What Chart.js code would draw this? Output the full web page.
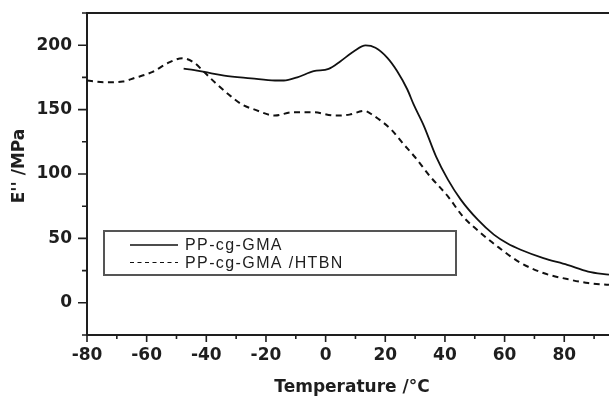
<!DOCTYPE html>
<html>
<head>
<meta charset="utf-8">
<script src="https://cdn.jsdelivr.net/npm/chart.js@4.4.1/dist/chart.umd.min.js"></script>
<style>
  html, body { margin: 0; padding: 0; background: #fff; }
  #wrap { width: 609px; height: 399px; }
</style>
</head>
<body>
<div id="wrap"><canvas id="chart" width="609" height="399"></canvas></div>
<script>
// Loss modulus E'' versus temperature for the two blends
const seriesNames = ['PP-cg-GMA', 'PP-cg-GMA /HTBN'];

const gmaTemps   = [-47.6, -44, -39, -34, -25, -17, -14, -9.5, -4, 1, 5, 9.5, 13.4, 16.7, 20.7, 24, 27.4, 29.5, 33, 37, 41, 45.3, 51, 56.4, 61, 65.4, 73, 81, 88, 95];
const gmaModulus = [181.8, 180.6, 178.5, 176.4, 174.3, 172.6, 172.6, 175.1, 179.8, 181.6, 187.6, 195.3, 199.8, 198, 190.2, 179.8, 165.6, 154, 137, 113.7, 95.6, 80.1, 64.5, 52.9, 46, 41.2, 34.7, 29.5, 24.3, 21.8];

const htbnTemps   = [-80, -74, -68, -64, -58, -53, -48, -44, -41, -37, -32.5, -28, -24, -17, -11, -4, 3, 8, 13, 16, 19, 22, 26, 30, 35, 41, 46, 52, 58, 65, 73, 81, 88, 95];
const htbnModulus = [172.5, 171.2, 171.8, 174.6, 179.3, 186, 189.9, 186.3, 179.8, 170.8, 161.7, 153.9, 150.2, 145.4, 148, 147.9, 145.4, 146.1, 149, 145.5, 140.5, 134.5, 123.5, 113, 98.2, 82.6, 67.1, 54.2, 43, 31.5, 23.1, 18.4, 15.3, 14];

const xLabelStep = 20;   // labelled temperature ticks
const yLabelStep = 50;   // labelled modulus ticks
const xAxisTitle = 'Temperature /°C';
const yAxisTitle = "E'' /MPa";

const toPoints = (xs, ys) => xs.map((x, i) => ({ x, y: ys[i] }));

const INK = '#1e1e1e';
const tickFont = { family: 'DejaVu Sans', weight: 'bold', size: 17 };

// Outward major/minor ticks, top frame line and axis titles
const frameAndTitles = {
  id: 'frameAndTitles',
  afterDraw(chart) {
    const { ctx, chartArea: a, scales: { x, y } } = chart;
    ctx.save();
    ctx.strokeStyle = INK;
    ctx.lineWidth = 1.6;
    ctx.beginPath();
    x.ticks.forEach(t => {
      const px = x.getPixelForValue(t.value);
      const len = Math.abs(t.value % xLabelStep) < 1e-6 ? 7 : 4;
      ctx.moveTo(px, a.bottom); ctx.lineTo(px, a.bottom + len);
    });
    y.ticks.forEach(t => {
      const py = y.getPixelForValue(t.value);
      const len = Math.abs(t.value % yLabelStep) < 1e-6 ? 9 : 5;
      ctx.moveTo(a.left, py); ctx.lineTo(a.left - len, py);
    });
    ctx.stroke();

    ctx.lineWidth = 2;
    ctx.beginPath();
    ctx.moveTo(a.left - 1, a.top); ctx.lineTo(a.right, a.top);
    ctx.stroke();

    ctx.fillStyle = INK;
    ctx.font = 'bold 17px "DejaVu Sans"';
    ctx.textAlign = 'center';
    ctx.textBaseline = 'middle';
    ctx.fillText(xAxisTitle, (a.left + a.right) / 2 + 4, 388);

    ctx.translate(20, 166);
    ctx.rotate(-Math.PI / 2);
    ctx.fillText(yAxisTitle, 0, 0);
    ctx.restore();
  }
};

// Boxed legend inside the plot area
const boxedLegend = {
  id: 'boxedLegend',
  afterDraw(chart) {
    const { ctx } = chart;
    const box = { left: 104, top: 231, width: 352, height: 44 };
    ctx.save();
    ctx.strokeStyle = '#555';
    ctx.lineWidth = 2;
    ctx.strokeRect(box.left, box.top, box.width, box.height);

    ctx.font = '16px "Liberation Sans"';
    ctx.letterSpacing = '1.4px';
    ctx.textAlign = 'left';
    ctx.textBaseline = 'middle';
    chart.data.datasets.forEach((ds, i) => {
      const rowY = 245 + i * 17.5;
      ctx.strokeStyle = ds.borderColor;
      ctx.lineWidth = i === 0 ? 1.4 : 1.2;
      ctx.setLineDash(i === 0 ? [] : [4, 3.5]);
      ctx.beginPath();
      ctx.moveTo(130, rowY); ctx.lineTo(178, rowY);
      ctx.stroke();
      ctx.setLineDash([]);
      ctx.fillStyle = INK;
      ctx.fillText(ds.label, 185, rowY + 1);
    });
    ctx.restore();
  }
};

const noEdgePadding = s => { s.paddingTop = 0; s.paddingBottom = 0; s.paddingLeft = 0; s.paddingRight = 0; };

new Chart(document.getElementById('chart'), {
  type: 'line',
  data: {
    datasets: [
      {
        label: seriesNames[0],
        data: toPoints(gmaTemps, gmaModulus),
        borderColor: '#111',
        borderWidth: 1.8,
        pointRadius: 0,
        cubicInterpolationMode: 'monotone',
        fill: false
      },
      {
        label: seriesNames[1],
        data: toPoints(htbnTemps, htbnModulus),
        borderColor: '#111',
        borderWidth: 2,
        borderDash: [6, 4.5],
        pointRadius: 0,
        cubicInterpolationMode: 'monotone',
        fill: false
      }
    ]
  },
  options: {
    responsive: false,
    animation: false,
    events: [],
    layout: { padding: { top: 13, left: 0, right: 0, bottom: 0 } },
    plugins: { legend: { display: false }, tooltip: { enabled: false } },
    scales: {
      x: {
        type: 'linear',
        min: -80,
        max: 95,
        afterFit: s => { s.height = 64; noEdgePadding(s); },
        grid: { display: true, drawOnChartArea: false, drawTicks: false },
        border: { display: true, color: INK, width: 2 },
        ticks: {
          stepSize: 10,
          includeBounds: false,
          autoSkip: false,
          maxRotation: 0,
          padding: 10,
          color: INK,
          font: tickFont,
          callback: v => (Math.abs(v % xLabelStep) < 1e-6 ? v : '')
        }
      },
      y: {
        type: 'linear',
        min: -25,
        max: 225,
        afterFit: s => { s.width = 87; noEdgePadding(s); },
        grid: { display: true, drawOnChartArea: false, drawTicks: false },
        border: { display: true, color: INK, width: 2 },
        ticks: {
          stepSize: 25,
          includeBounds: false,
          autoSkip: false,
          padding: 15,
          color: INK,
          font: tickFont,
          callback: v => (Math.abs(v % yLabelStep) < 1e-6 ? v : '')
        }
      }
    }
  },
  plugins: [frameAndTitles, boxedLegend]
});
</script>
</body>
</html>
